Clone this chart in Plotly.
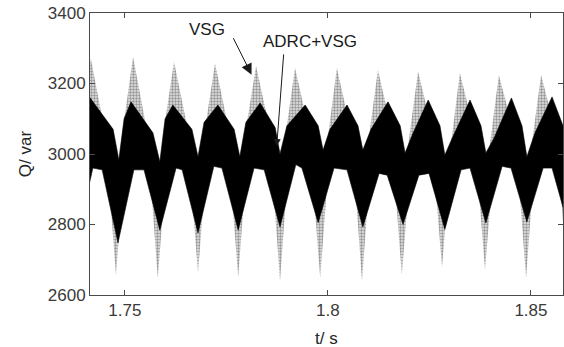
import plotly.graph_objects as go

# ---- data (time in s, reactive power in var) ----
# VSG (dotted grey band): upper envelope (tips and the points where it meets the black band)
vsg_upper_t = [1.7377, 1.7392, 1.7416, 1.7448, 1.7478, 1.7495, 1.7520, 1.7552, 1.7581, 1.7596,
               1.7621, 1.7653, 1.7680, 1.7697, 1.7722, 1.7754, 1.7779, 1.7798, 1.7823, 1.7855,
               1.7882, 1.7894, 1.7919, 1.7951, 1.7981, 1.7998, 1.8022, 1.8054, 1.8084, 1.8099,
               1.8123, 1.8155, 1.8182, 1.8197, 1.8222, 1.8254, 1.8281, 1.8301, 1.8325, 1.8357,
               1.8387, 1.8397, 1.8421, 1.8454, 1.8488, 1.8500, 1.8525, 1.8557, 1.8589]
vsg_upper_q = [2900, 3070, 3271, 3080, 2900, 3070, 3276, 3080, 2900, 3070,
               3262, 3080, 2900, 3070, 3257, 3080, 2900, 3070, 3250, 3080,
               2900, 3040, 3244, 3080, 2900, 3030, 3244, 3080, 2900, 3030,
               3238, 3080, 2900, 3020, 3234, 3080, 2900, 3010, 3230, 3080,
               2900, 3010, 3224, 3080, 2900, 3010, 3224, 3080, 2900]
# VSG lower envelope (troughs and the points where it meets the black band)
vsg_lower_t = [1.7377, 1.7399, 1.7456, 1.7478, 1.7500, 1.7559, 1.7581, 1.7604, 1.7658, 1.7680,
               1.7702, 1.7756, 1.7779, 1.7801, 1.7860, 1.7882, 1.7904, 1.7958, 1.7981, 1.8003,
               1.8062, 1.8084, 1.8106, 1.8160, 1.8182, 1.8205, 1.8259, 1.8281, 1.8303, 1.8365,
               1.8387, 1.8409, 1.8466, 1.8488, 1.8510, 1.8567, 1.8589]
vsg_lower_q = [2650, 2990, 2990, 2657, 2990, 2990, 2648, 2990, 2990, 2662,
               2990, 2990, 2651, 2990, 2990, 2640, 2990, 2990, 2648, 2990,
               2990, 2640, 2990, 2990, 2657, 2990, 2990, 2679, 2990, 2990,
               2671, 2990, 2990, 2648, 2990, 2990, 2655]

# ADRC+VSG (solid black band): upper envelope (peaks, shoulders, notches)
adrc_upper_t = [1.7382, 1.7394, 1.7412, 1.7471, 1.7485, 1.7498, 1.7515, 1.7569, 1.7586, 1.7599,
                1.7618, 1.7665, 1.7680, 1.7695, 1.7729, 1.7769, 1.7783, 1.7798, 1.7833, 1.7870,
                1.7882, 1.7899, 1.7944, 1.7976, 1.7988, 1.8005, 1.8047, 1.8074, 1.8086, 1.8106,
                1.8148, 1.8178, 1.8190, 1.8210, 1.8247, 1.8276, 1.8288, 1.8308, 1.8350, 1.8377,
                1.8389, 1.8409, 1.8452, 1.8478, 1.8490, 1.8510, 1.8552, 1.8579, 1.8591]
adrc_upper_q = [2985, 3100, 3163, 3070, 2983, 3100, 3148, 3060, 2978, 3100,
                3139, 3070, 2992, 3090, 3139, 3070, 2992, 3090, 3145, 3075,
                3000, 3080, 3139, 3080, 3011, 3070, 3139, 3080, 3011, 3070,
                3148, 3080, 3003, 3060, 3153, 3080, 2997, 3050, 3153, 3080,
                3003, 3045, 3159, 3080, 2992, 3060, 3162, 3080, 3000]
# ADRC+VSG lower envelope (troughs and short plateaus)
adrc_lower_t = [1.7382, 1.7421, 1.7444, 1.7483, 1.7522, 1.7547, 1.7586, 1.7626, 1.7641, 1.7680,
                1.7719, 1.7739, 1.7779, 1.7818, 1.7843, 1.7882, 1.7921, 1.7936, 1.7976, 1.8015,
                1.8047, 1.8086, 1.8126, 1.8146, 1.8185, 1.8224, 1.8249, 1.8288, 1.8328, 1.8350,
                1.8389, 1.8429, 1.8451, 1.8490, 1.8530, 1.8552, 1.8591]
adrc_lower_q = [2760, 2960, 2955, 2748, 2955, 2955, 2784, 2960, 2955, 2776,
                2965, 2960, 2784, 2960, 2955, 2793, 2970, 2960, 2805, 2960,
                2955, 2793, 2945, 2940, 2800, 2940, 2945, 2786, 2955, 2960,
                2804, 2965, 2960, 2807, 2960, 2960, 2800]

x_ticks = [1.75, 1.80, 1.85]
x_tick_text = ["1.75", "1.8", "1.85"]
y_ticks = [2600, 2800, 3000, 3200, 3400]
y_tick_text = ["2600", "2800", "3000", "3200", "3400"]

FONT = "Liberation Sans, Arial, Helvetica, sans-serif"

fig = go.Figure()

fig.add_trace(go.Scatter(
    x=vsg_upper_t + vsg_lower_t[::-1],
    y=vsg_upper_q + vsg_lower_q[::-1],
    mode="lines", fill="toself", line=dict(width=0),
    fillcolor="#a0a0a0",
    fillpattern=dict(shape=".", fgcolor="#4a4a4a", bgcolor="#e2e2e2", size=3, solidity=0.5),
    name="VSG", showlegend=False, hoverinfo="skip"))

fig.add_trace(go.Scatter(
    x=adrc_upper_t + adrc_lower_t[::-1],
    y=adrc_upper_q + adrc_lower_q[::-1],
    mode="lines", fill="toself", line=dict(width=0.6, color="black"),
    fillcolor="black",
    name="ADRC+VSG", showlegend=False, hoverinfo="skip"))

axis_common = dict(
    showgrid=False, zeroline=False, showline=True, linecolor="#4a4a4a", linewidth=1,
    mirror="ticks", ticks="inside", ticklen=5, tickcolor="#4a4a4a", tickwidth=1,
    tickfont=dict(family=FONT, size=17, color="#3a3a3a"),
)

fig.update_xaxes(range=[1.7414, 1.8579], tickvals=x_ticks, ticktext=x_tick_text, **axis_common)
fig.update_yaxes(range=[2600, 3400], tickvals=y_ticks, ticktext=y_tick_text, **axis_common)

annotations = [
    dict(text="Q/ var", xref="paper", yref="paper", x=-0.137, y=0.5, textangle=-90,
         showarrow=False, xanchor="center", yanchor="middle",
         font=dict(family=FONT, size=17, color="#262626")),
    dict(text="t/ s", xref="paper", yref="paper", x=0.5, y=-0.156,
         showarrow=False, xanchor="center", yanchor="middle",
         font=dict(family=FONT, size=17, color="#262626")),
    dict(text="VSG", x=1.7703, y=3353, xref="x", yref="y", showarrow=False,
         xanchor="center", yanchor="middle", font=dict(family=FONT, size=17, color="#1a1a1a")),
    dict(text="ADRC+VSG", x=1.7956, y=3318, xref="x", yref="y", showarrow=False,
         xanchor="center", yanchor="middle", font=dict(family=FONT, size=17, color="#1a1a1a")),
    dict(text="", x=1.7812, y=3225, xref="x", yref="y", showarrow=True,
         ax=-19, ay=-38, arrowhead=2, arrowsize=2.2, arrowwidth=1, arrowcolor="#1a1a1a"),
    dict(text="", x=1.7874, y=3023, xref="x", yref="y", showarrow=True,
         ax=7, ay=-93, arrowhead=2, arrowsize=1.4, arrowwidth=1, arrowcolor="#1a1a1a"),
]

fig.update_layout(
    width=564, height=347,
    margin=dict(l=90, r=1, t=13, b=52),
    paper_bgcolor="white", plot_bgcolor="white",
    annotations=annotations,
    showlegend=False,
)

fig.write_html("out.html")
